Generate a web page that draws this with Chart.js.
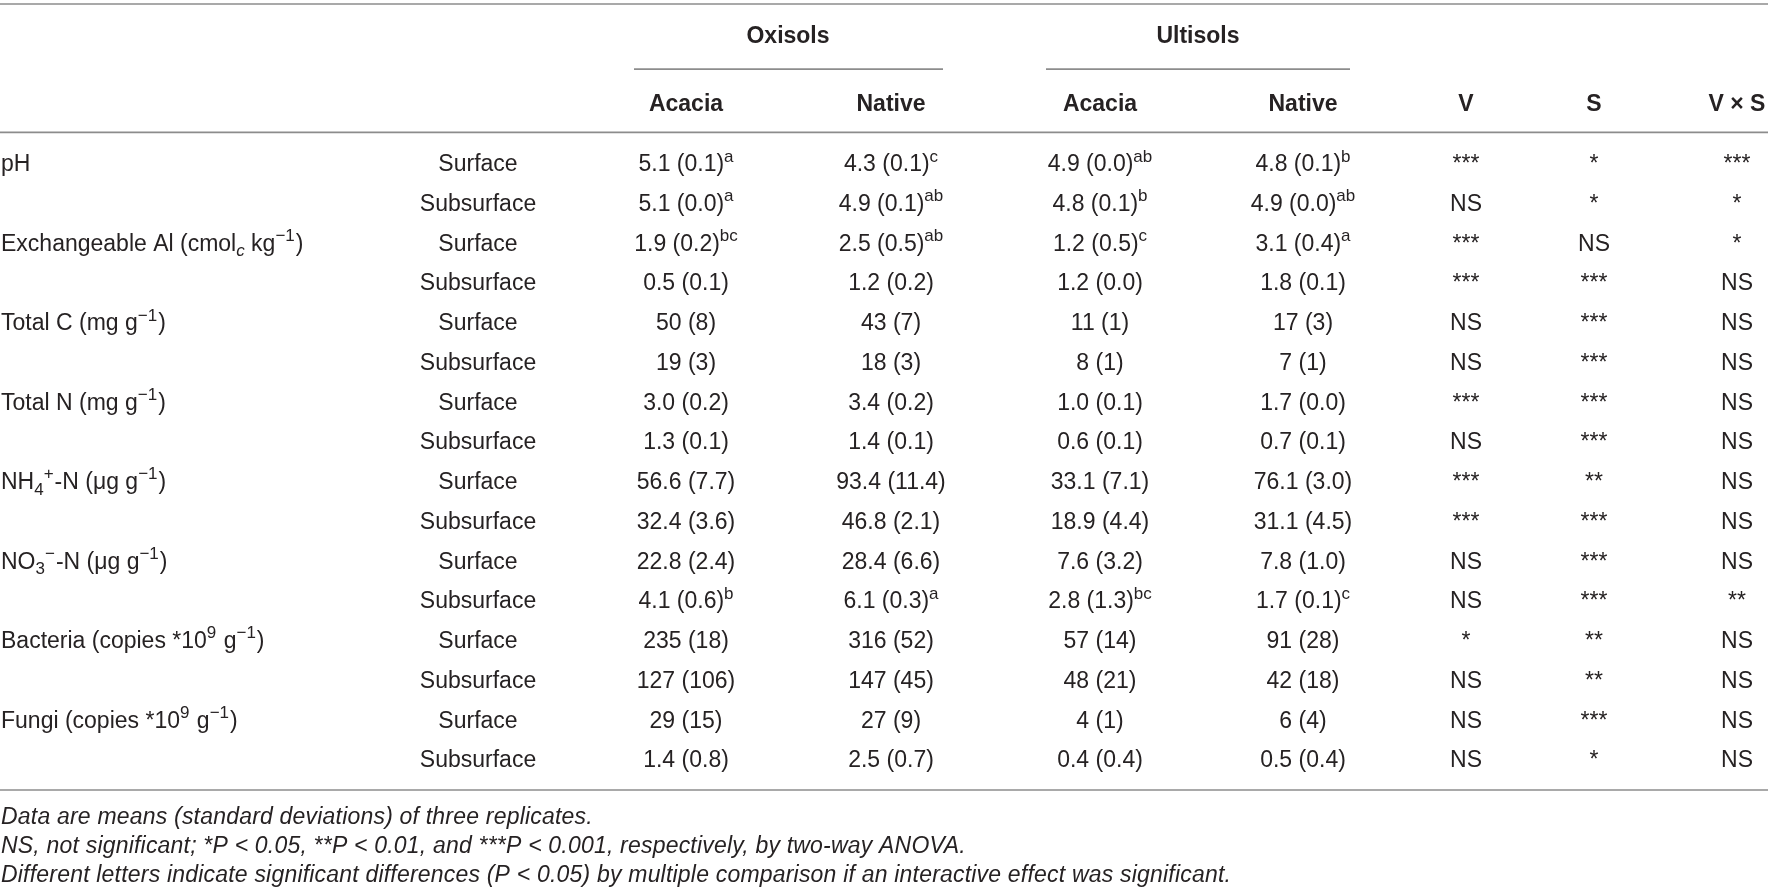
<!doctype html>
<html lang="en">
  <head>
    <meta charset="utf-8">
    <title>Soil properties table</title>
    <script src="https://cdn.jsdelivr.net/npm/chart.js@4.4.0/dist/chart.umd.min.js"></script>
    <style>
      html, body { margin: 0; padding: 0; background: #fff; }
      #wrap { width: 1772px; height: 889px; }
    </style>
  </head>
  <body>
    <div id="wrap"><canvas id="tabla" width="1772" height="889"></canvas></div>

  <script>

    // ---- data ----
    // ^{..} superscript, _{..} subscript, ~{..} italic subscript
    const properties = [
      "pH",
      "Exchangeable Al (cmol~{c} kg^{\u22121})",
      "Total C (mg g^{\u22121})",
      "Total N (mg g^{\u22121})",
      "NH_{4}^{+}-N (\u03bcg g^{\u22121})",
      "NO_{3}^{\u2212}-N (\u03bcg g^{\u22121})",
      "Bacteria (copies *10^{9} g^{\u22121})",
      "Fungi (copies *10^{9} g^{\u22121})"
    ];
    const depths = ["Surface", "Subsurface"];

    const groups = ["Oxisols", "Ultisols"];
    const columns = ["Acacia", "Native", "Acacia", "Native", "V", "S", "V \u00d7 S"];

    const oxAcacia = ["5.1 (0.1)","5.1 (0.0)","1.9 (0.2)","0.5 (0.1)","50 (8)","19 (3)","3.0 (0.2)","1.3 (0.1)",
                      "56.6 (7.7)","32.4 (3.6)","22.8 (2.4)","4.1 (0.6)","235 (18)","127 (106)","29 (15)","1.4 (0.8)"];
    const oxAcaciaLetters = ["a","a","bc","","","","","","","","","b","","","",""];

    const oxNative = ["4.3 (0.1)","4.9 (0.1)","2.5 (0.5)","1.2 (0.2)","43 (7)","18 (3)","3.4 (0.2)","1.4 (0.1)",
                      "93.4 (11.4)","46.8 (2.1)","28.4 (6.6)","6.1 (0.3)","316 (52)","147 (45)","27 (9)","2.5 (0.7)"];
    const oxNativeLetters = ["c","ab","ab","","","","","","","","","a","","","",""];

    const ultAcacia = ["4.9 (0.0)","4.8 (0.1)","1.2 (0.5)","1.2 (0.0)","11 (1)","8 (1)","1.0 (0.1)","0.6 (0.1)",
                       "33.1 (7.1)","18.9 (4.4)","7.6 (3.2)","2.8 (1.3)","57 (14)","48 (21)","4 (1)","0.4 (0.4)"];
    const ultAcaciaLetters = ["ab","b","c","","","","","","","","","bc","","","",""];

    const ultNative = ["4.8 (0.1)","4.9 (0.0)","3.1 (0.4)","1.8 (0.1)","17 (3)","7 (1)","1.7 (0.0)","0.7 (0.1)",
                       "76.1 (3.0)","31.1 (4.5)","7.8 (1.0)","1.7 (0.1)","91 (28)","42 (18)","6 (4)","0.5 (0.4)"];
    const ultNativeLetters = ["b","ab","a","","","","","","","","","c","","","",""];

    const sigV  = ["***","NS","***","***","NS","NS","***","NS","***","***","NS","NS","*","NS","NS","NS"];
    const sigS  = ["*","*","NS","***","***","***","***","***","**","***","***","***","**","**","***","*"];
    const sigVS = ["***","*","*","NS","NS","NS","NS","NS","NS","NS","NS","**","NS","NS","NS","NS"];

    const footnotes = [
      "Data are means (standard deviations) of three replicates.",
      "NS, not significant; *P < 0.05, **P < 0.01, and ***P < 0.001, respectively, by two-way ANOVA.",
      "Different letters indicate significant differences (P < 0.05) by multiple comparison if an interactive effect was significant."
    ];

    // ---- layout (x in px, y in row units) ----
    const colX = [686, 891, 1100, 1303, 1466, 1594, 1737];
    const depthX = 478;
    const labelX = 1;
    const groupX = [788, 1198];
    const groupY = -3.22, headY = -1.51;
    const rules = [
      {x0: 0, x1: 1768, y: -4.0},
      {x0: 634, x1: 943, y: -2.36},
      {x0: 1046, x1: 1350, y: -2.36},
      {x0: 0, x1: 1768, y: -0.77},
      {x0: 0, x1: 1768, y: 15.78}
    ];
    const footY = [16.43, 17.16, 17.89];

    const FONT = "'Liberation Sans', Arial, sans-serif";
    const SIZE = 23;
    const TEXT = "#262223";

    function parseRich(str){
      let out = [], re = /([\^_~])\{([^}]*)\}/g, last = 0, m;
      while((m = re.exec(str))){
        if(m.index > last) out.push({t: str.slice(last, m.index), k: "n"});
        out.push({t: m[2], k: m[1]});
        last = re.lastIndex;
      }
      if(last < str.length) out.push({t: str.slice(last), k: "n"});
      return out;
    }

    function fontFor(k, weight, style){
      let sz = (k === "n") ? SIZE : Math.round(SIZE * 0.72);
      let st = (k === "~") ? "italic" : style;
      return `${st} ${weight} ${sz}px ${FONT}`;
    }

    function drawRich(ctx, str, x, y, align, weight = "normal", style = "normal", spacing = "0px"){
      let segs = parseRich(str);
      let w = 0;
      ctx.letterSpacing = spacing;
      segs.forEach(s => { ctx.font = fontFor(s.k, weight, style); s.w = ctx.measureText(s.t).width; w += s.w; });
      let cx = align === "center" ? x - w / 2 : x;
      let base = y + SIZE * 0.36;
      segs.forEach(s => {
        ctx.font = fontFor(s.k, weight, style);
        let dy = s.k === "^" ? -SIZE * 0.42 : (s.k === "n" ? 0 : SIZE * 0.24);
        ctx.fillText(s.t, cx, base + dy);
        cx += s.w + (s.k === "^" ? 1 : 0);
      });
      ctx.letterSpacing = "0px";
    }

    // cells: one scatter dataset per column, text drawn at each point
    const withLetters = (vals, lets) => vals.map((v, i) => lets[i] ? `${v}^{${lets[i]}}` : v);
    const colTexts = [
      withLetters(oxAcacia, oxAcaciaLetters),
      withLetters(oxNative, oxNativeLetters),
      withLetters(ultAcacia, ultAcaciaLetters),
      withLetters(ultNative, ultNativeLetters),
      sigV, sigS, sigVS
    ];

    let datasets = [];
    colTexts.forEach((texts, c) => {
      datasets.push({
        type: "scatter",
        cellText: texts,
        data: texts.map((t, r) => ({x: colX[c], y: r})),
        pointRadius: 0
      });
    });
    // depth column
    let depthTexts = oxAcacia.map((v, r) => depths[r % 2]);
    datasets.push({ type: "scatter", cellText: depthTexts, data: depthTexts.map((t, r) => ({x: depthX, y: r})), pointRadius: 0 });
    // property labels
    datasets.push({ type: "scatter", cellText: properties, align: "left", data: properties.map((t, i) => ({x: labelX, y: i * 2})), pointRadius: 0 });

    // rules
    rules.forEach(l => {
      datasets.push({
        type: "line",
        data: [{x: l.x0, y: l.y}, {x: l.x1, y: l.y}],
        borderColor: "#8c8c8c",
        borderWidth: 1.6,
        pointRadius: 0
      });
    });

    const tablePlugin = {
      id: "tableText",
      afterDatasetsDraw(chart){
        let ctx = chart.ctx, xs = chart.scales.x, ys = chart.scales.y;
        ctx.save();
        ctx.fillStyle = TEXT;
        chart.data.datasets.forEach((ds, i) => {
          if(!ds.cellText) return;
          let meta = chart.getDatasetMeta(i);
          meta.data.forEach((pt, j) => {
            drawRich(ctx, ds.cellText[j], pt.x, pt.y, ds.align || "center");
          });
        });
        groups.forEach((g, i) => drawRich(ctx, g, xs.getPixelForValue(groupX[i]), ys.getPixelForValue(groupY), "center", "bold"));
        columns.forEach((c, i) => drawRich(ctx, c, xs.getPixelForValue(colX[i]), ys.getPixelForValue(headY), "center", "bold"));
        footnotes.forEach((f, i) => drawRich(ctx, f, xs.getPixelForValue(labelX), ys.getPixelForValue(footY[i]), "left", "normal", "italic", "0.2px"));
        ctx.restore();
      }
    };

    new Chart(document.getElementById("tabla").getContext("2d"), {
      type: "scatter",
      data: { datasets },
      options: {
        responsive: false,
        devicePixelRatio: 1,
        animation: false,
        layout: { padding: 0 },
        plugins: { legend: { display: false }, tooltip: { enabled: false } },
        scales: {
          x: { type: "linear", min: 0, max: 1772, display: false },
          y: { type: "linear", min: -4.1, max: 18.27, reverse: true, display: false }
        }
      },
      plugins: [tablePlugin]
    });

  </script>
  </body>
</html>
